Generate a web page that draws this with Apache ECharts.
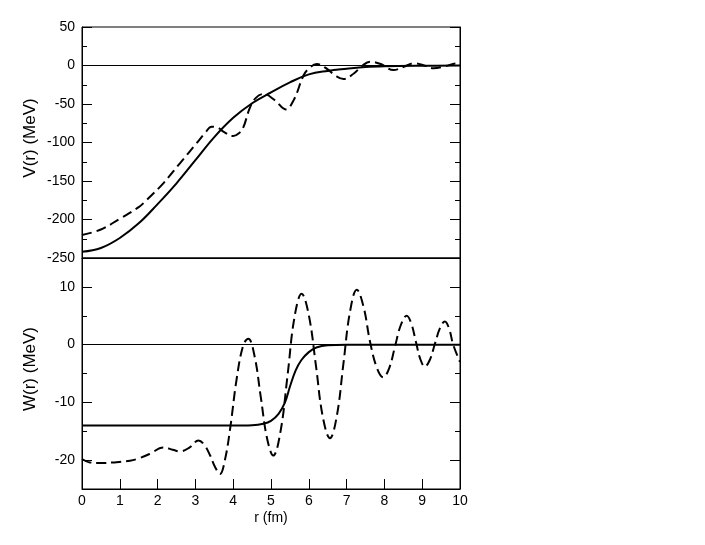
<!DOCTYPE html>
<html>
<head>
<meta charset="utf-8">
<script src="https://cdn.jsdelivr.net/npm/echarts@6/dist/echarts.min.js"></script>
<style>
html,body{margin:0;padding:0;background:#fff;}
#chart{width:705px;height:545px;}
</style>
</head>
<body>
<div id="chart"></div>
<script>
// ---- Data ----
// Top panel: real potential V(r)
var rVSolid = [0, 0.5, 1.0, 1.5, 2.0, 2.5, 3.0, 3.5, 4.0, 4.5, 5.0, 5.5, 6.0, 6.5, 7.0, 7.5, 8.0, 9.0, 10.0];
var vSolid  = [-242, -237, -224, -205, -180, -153, -123, -93, -68, -49, -35, -22, -11.5, -7, -4.3, -2, -1, -0.3, 0];

var rVDashed = [0, 0.5, 1.0, 1.5, 1.71, 2.15, 2.59, 3.03, 3.25, 3.43, 3.6, 3.74, 4.0, 4.15, 4.27, 4.44, 4.6, 4.8, 5.1, 5.39, 5.6, 5.86, 6.0, 6.21, 6.5, 6.7, 6.92, 7.2, 7.4, 7.62, 7.9, 8.24, 8.5, 8.79, 9.05, 9.3, 9.6, 9.93, 10.0];
var vDashed  = [-220, -213, -199, -184, -174.7, -153, -127, -101, -88, -79.5, -81, -86, -91.6, -88, -80, -55, -42, -37, -45, -57, -45, -13, -4, 2, -5, -13, -17.5, -10, -1, 5, 2, -6, -2, 3, 0, -3.7, -1, 2.8, 2.5];

// Bottom panel: imaginary potential W(r)
var rWSolid = [0, 1, 2, 3, 4, 4.5, 4.8, 5.0, 5.2, 5.37, 5.5, 5.65, 5.8, 6.0, 6.2, 6.5, 7, 8, 9, 10];
var wSolid  = [-14, -14, -14, -14, -14, -13.95, -13.7, -13.2, -12, -10, -7.3, -4.5, -2.7, -1.3, -0.5, -0.1, 0, 0, 0, 0];

var rWDashed = [0, 0.21, 0.5, 0.83, 1.27, 1.5, 1.8, 2.15, 2.4, 2.59, 2.85, 3.08, 3.25, 3.39, 3.52, 3.65, 3.78, 3.92, 4.09, 4.27, 4.4, 4.565, 4.73, 4.895, 5.06, 5.25, 5.44, 5.62, 5.81, 6.0, 6.19, 6.37, 6.56, 6.74, 6.915, 7.09, 7.27, 7.45, 7.62, 7.8, 7.97, 8.125, 8.28, 8.435, 8.59, 8.71, 8.83, 8.95, 9.07, 9.2, 9.335, 9.47, 9.6, 9.71, 9.82, 10.0];
var wDashed  = [-19.8, -20.4, -20.5, -20.4, -20.1, -19.7, -18.9, -17.8, -18.2, -18.5, -17.8, -16.6, -17.5, -19.2, -21.2, -22.4, -20, -14.5, -6, 0, 1.0, -2.0, -9.1, -16.2, -19.2, -15.1, -5.2, 4.7, 8.8, 5.1, -3.7, -12.5, -16.2, -12.4, -3.35, 5.7, 9.5, 6.5, 0.5, -4, -5.65, -4.1, -0.33, 3.4, 5, 3.7, 0.6, -2.5, -3.8, -2.66, 0.1, 2.85, 4, 2.8, 0, -3];

// Tick values
var xTicks = [0, 1, 2, 3, 4, 5, 6, 7, 8, 9, 10];
var wMajorTicks = [-20, -10, 0, 10];
var wMinorTicks = [-15, -5, 5];

function pairs(xs, ys) { return xs.map(function (x, i) { return [x, ys[i]]; }); }

var FONT = 'Liberation Sans, Arial, Helvetica, sans-serif';
var chart = echarts.init(document.getElementById('chart'), null, {renderer: 'canvas'});

function baseX(grid, showTicks) {
  return {
    type: 'value', gridIndex: grid, min: xTicks[0], max: xTicks[xTicks.length - 1], interval: 1,
    axisLine: {show: true, onZero: false, lineStyle: {color: '#000', width: 1}},
    axisTick: {show: showTicks, inside: true, length: 10, lineStyle: {color: '#000'}},
    axisLabel: {show: showTicks, fontSize: 14, color: '#000', fontFamily: FONT, margin: 5},
    splitLine: {show: false}
  };
}

var zeroLine = {
  silent: true, symbol: ['none', 'none'], label: {show: false},
  lineStyle: {color: '#000', width: 1, type: 'solid'},
  data: [{yAxis: 0}]
};

var option = {
  animation: false,
  backgroundColor: '#fff',
  grid: [
    {left: 82, top: 27, width: 378, height: 231, show: true, borderColor: '#000', borderWidth: 1},
    {left: 82, top: 258, width: 378, height: 231, show: true, borderColor: '#000', borderWidth: 1}
  ],
  graphic: [
    {type: 'text', x: 30, y: 138, rotation: Math.PI / 2,
     style: {text: 'V(r) (MeV)', fontSize: 17, fontFamily: FONT, fill: '#000', align: 'center', verticalAlign: 'middle'}},
    {type: 'text', x: 30, y: 369, rotation: Math.PI / 2,
     style: {text: 'W(r) (MeV)', fontSize: 17, fontFamily: FONT, fill: '#000', align: 'center', verticalAlign: 'middle'}}
  ],
  xAxis: [
    baseX(0, false),
    Object.assign(baseX(1, true), {
      name: 'r (fm)', nameLocation: 'middle', nameGap: 22,
      nameTextStyle: {fontSize: 14, color: '#000', fontFamily: FONT}
    })
  ],
  yAxis: [
    {
      type: 'value', gridIndex: 0, position: 'left', min: -250, max: 50, interval: 50,
      axisLine: {show: true, onZero: false, lineStyle: {color: '#000'}},
      axisTick: {show: true, inside: true, length: 10, lineStyle: {color: '#000'}},
      minorTick: {show: true, splitNumber: 2, length: 5, lineStyle: {color: '#000'}},
      axisLabel: {fontSize: 14, color: '#000', fontFamily: FONT, margin: 7},
      splitLine: {show: false}
    },
    {
      type: 'value', gridIndex: 0, position: 'right', min: -250, max: 50, interval: 50,
      axisLine: {show: true, onZero: false, lineStyle: {color: '#000'}},
      axisTick: {show: true, inside: true, length: 10, lineStyle: {color: '#000'}},
      minorTick: {show: true, splitNumber: 2, length: 5, lineStyle: {color: '#000'}},
      axisLabel: {show: false},
      splitLine: {show: false}
    },
    {
      type: 'value', gridIndex: 1, position: 'left', min: -25, max: 15, interval: 5,
      axisLine: {show: true, onZero: false, lineStyle: {color: '#000'}},
      axisTick: {show: true, inside: true, length: 10, customValues: wMajorTicks, lineStyle: {color: '#000'}},
      axisLabel: {fontSize: 14, color: '#000', fontFamily: FONT, margin: 7, customValues: wMajorTicks},
      splitLine: {show: false}
    },
    {
      type: 'value', gridIndex: 1, position: 'left', min: -25, max: 15, interval: 5,
      axisLine: {show: false},
      axisTick: {show: true, inside: true, length: 5, customValues: wMinorTicks, lineStyle: {color: '#000'}},
      axisLabel: {show: false},
      splitLine: {show: false}
    },
    {
      type: 'value', gridIndex: 1, position: 'right', min: -25, max: 15, interval: 5,
      axisLine: {show: true, onZero: false, lineStyle: {color: '#000'}},
      axisTick: {show: true, inside: true, length: 10, customValues: wMajorTicks, lineStyle: {color: '#000'}},
      axisLabel: {show: false},
      splitLine: {show: false}
    },
    {
      type: 'value', gridIndex: 1, position: 'right', min: -25, max: 15, interval: 5,
      axisLine: {show: false},
      axisTick: {show: true, inside: true, length: 5, customValues: wMinorTicks, lineStyle: {color: '#000'}},
      axisLabel: {show: false},
      splitLine: {show: false}
    }
  ],
  series: [
    {
      type: 'line', xAxisIndex: 0, yAxisIndex: 0, data: pairs(rVSolid, vSolid),
      smooth: 0.4, showSymbol: false, lineStyle: {color: '#000', width: 2}, markLine: zeroLine, z: 3
    },
    {
      type: 'line', xAxisIndex: 0, yAxisIndex: 0, data: pairs(rVDashed, vDashed),
      smooth: 0.4, showSymbol: false, lineStyle: {color: '#000', width: 2, type: [10, 5]}, z: 3
    },
    {
      type: 'line', xAxisIndex: 1, yAxisIndex: 2, data: pairs(rWSolid, wSolid),
      smooth: 0.4, showSymbol: false, lineStyle: {color: '#000', width: 2}, markLine: zeroLine, z: 3
    },
    {
      type: 'line', xAxisIndex: 1, yAxisIndex: 2, data: pairs(rWDashed, wDashed),
      smooth: 0.4, showSymbol: false, lineStyle: {color: '#000', width: 2, type: [10, 5]}, z: 3
    }
  ]
};
chart.setOption(option);
</script>
</body>
</html>
